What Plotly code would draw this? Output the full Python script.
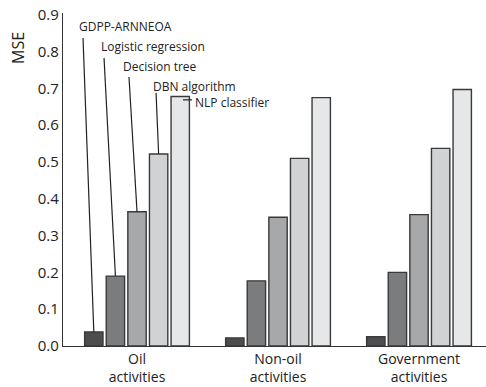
import plotly.graph_objects as go

categories = ["Oil<br>activities", "Non-oil<br>activities", "Government<br>activities"]
methods = ["GDPP-ARNNEOA", "Logistic regression", "Decision tree", "DBN algorithm", "NLP classifier"]
gdpp = [0.038, 0.022, 0.025]
logistic = [0.190, 0.177, 0.200]
dtree = [0.365, 0.350, 0.357]
dbn = [0.522, 0.510, 0.537]
nlp = [0.678, 0.675, 0.697]
series = [gdpp, logistic, dtree, dbn, nlp]
colors = ["#4d4d4f", "#7b7c7e", "#a7a8aa", "#d1d2d4", "#e6e7e8"]

FONT = "Open Sans"
fig = go.Figure()
for name, vals, c in zip(methods, series, colors):
    fig.add_trace(go.Bar(x=list(range(len(categories))), y=vals, name=name,
                         marker=dict(color=c, line=dict(color="#3a3a3a", width=1.4))))

bargap = 0.234
slot = (1 - bargap) / len(methods)

# leader-line label positions (data coords) for Oil group
label_text_pos = [(-0.082, 0.867, "center"), (0.113, 0.813, "center"), (0.163, 0.759, "center"),
                  (0.411, 0.704, "center"), (0.397, 0.663, "left")]
line_start = [(-0.383, 0.837), (-0.234, 0.783), (-0.057, 0.731), (0.135, 0.688)]

for k in range(4):
    bx = (k - 2) * slot
    x0, y0 = line_start[k]
    fig.add_shape(type="line", xref="x", yref="y", x0=x0, y0=y0, x1=bx, y1=series[k][0],
                  line=dict(color="#222222", width=1.2))
# NLP short horizontal tick
fig.add_shape(type="line", xref="x", yref="y", x0=0.326, y0=0.669, x1=0.39, y1=0.669,
              line=dict(color="#222222", width=1.2))

for (tx, ty, anchor), name in zip(label_text_pos, methods):
    fig.add_annotation(x=tx, y=ty, xref="x", yref="y", text=name, showarrow=False,
                       xanchor=anchor, yanchor="middle",
                       font=dict(family=FONT, size=12, color="#222222"))

fig.add_annotation(xref="x domain", yref="y domain", x=(18 - 63) / 423, y=(346 - 48) / 333,
                   xanchor="center", yanchor="middle",
                   text="MSE", showarrow=False, textangle=-90,
                   font=dict(family=FONT, size=16, color="#222222"))

fig.update_layout(
    width=486, height=387,
    margin=dict(l=63, r=0, t=13, b=41, autoexpand=False),
    paper_bgcolor="white", plot_bgcolor="white",
    barmode="group", bargap=bargap, bargroupgap=0.15,
    showlegend=False,
    font=dict(family=FONT, color="#222222"),
)
fig.update_xaxes(range=[-0.525, 2.475], tickmode="array", tickvals=[0, 1, 2], ticktext=categories,
                 showline=True, linecolor="#333333", linewidth=1.2, ticks="", showgrid=False,
                 zeroline=False, automargin=False, tickfont=dict(family=FONT, size=14, color="#222222"))
fig.update_yaxes(range=[0, 0.905], tickvals=[i / 10 for i in range(10)],
                 ticktext=[f"{i/10:.1f}" for i in range(10)], ticklabeloverflow="allow",
                 showline=True, linecolor="#333333", linewidth=1.2, ticks="", showgrid=False,
                 zeroline=False, automargin=False, tickfont=dict(family=FONT, size=15, color="#222222"))

fig.write_html("out.html", config={"displayModeBar": False},
               post_script="document.body.style.margin='0';document.body.style.overflow='hidden';")
